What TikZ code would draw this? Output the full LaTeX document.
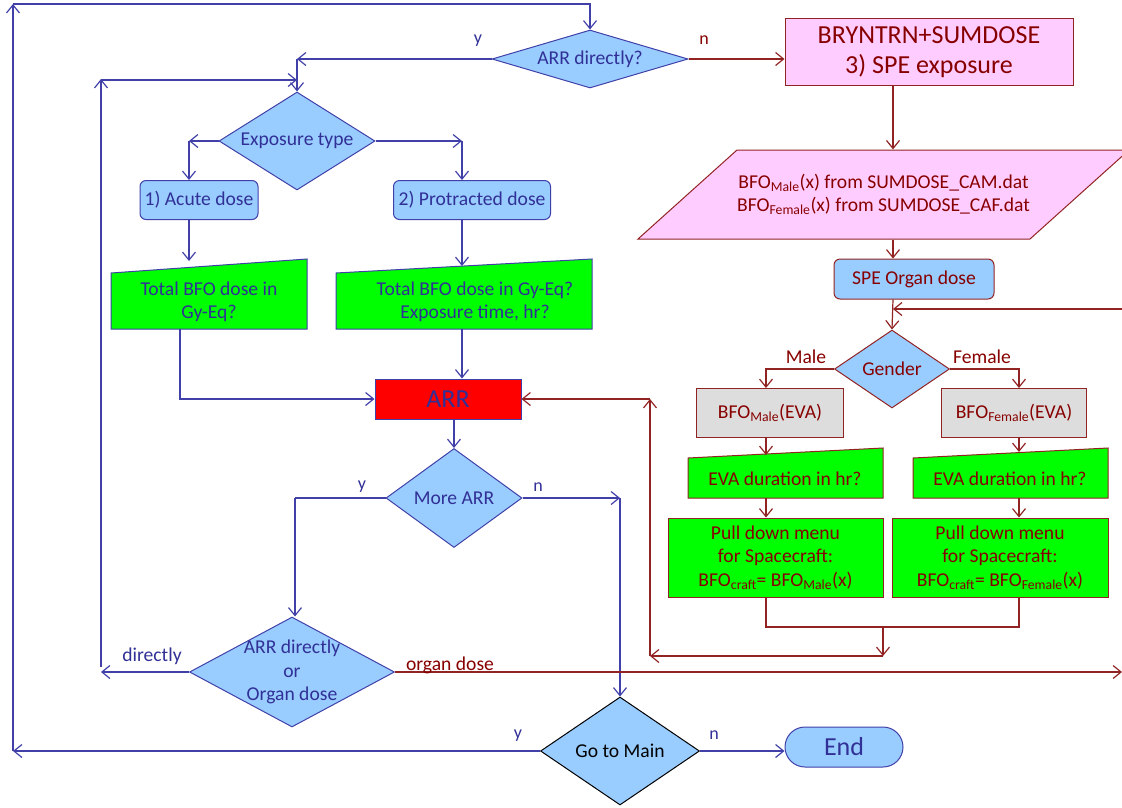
\documentclass[tikz,border=0pt]{standalone}
\usepackage{fontspec}
\setmainfont{Carlito}
\usetikzlibrary{shapes.geometric,arrows.meta}
\definecolor{lnblue}{RGB}{64,64,168}
\definecolor{txblue}{RGB}{48,48,150}
\definecolor{lnred}{RGB}{145,35,35}
\definecolor{txred}{RGB}{135,0,0}
\definecolor{lblue}{RGB}{153,204,255}
\definecolor{pinkf}{RGB}{255,204,255}
\definecolor{greenf}{RGB}{0,255,0}
\definecolor{redf}{RGB}{255,0,0}
\definecolor{grayf}{RGB}{221,221,221}
\newcommand{\fs}{\fontsize{19.6pt}{23.5pt}\selectfont}
\newcommand{\fb}{\fontsize{26pt}{30pt}\selectfont}
\begin{document}
\begin{tikzpicture}[x=1pt,y=-1pt,
  >={Straight Barb[length=8pt,width=13pt]},
  line width=1.2pt,
  bl/.style={draw=lnblue,->},
  rl/.style={draw=lnred,->},
  bplain/.style={draw=lnblue},
  rplain/.style={draw=lnred},
  every node/.style={font=\fs, inner sep=0pt},
  dia/.style={diamond, draw=lnblue, fill=lblue, line width=1pt},
  dlb/.style={font=\fs, text=txblue, align=center, inner sep=0pt},
  dlr/.style={font=\fs, text=txred, align=center, inner sep=0pt},
  bbox/.style={rectangle, draw=lnblue, fill=lblue, rounded corners=6pt, text=txblue, line width=1pt},
  rbox/.style={rectangle, draw=lnred, line width=1pt, text=txred, align=center},
  lab/.style={font=\fs},
  yn/.style={font=\fontsize{18pt}{20pt}\selectfont}
]
\useasboundingbox (0,0) rectangle (1122,807);

% ---------------- left part ----------------
\node[dia, minimum width=196pt, minimum height=58pt, label={[dlb]center:ARR directly?}] (arrdir) at (590,59) {};
\node[dia, minimum width=156pt, minimum height=98pt, label={[dlb]center:Exposure type}] (exp) at (297,141) {};
\node[bbox, minimum width=118pt, minimum height=39pt] (acute) at (199,200) {1) Acute dose};
\node[bbox, minimum width=157pt, minimum height=39pt] (prot) at (472,200) {2) Protracted dose};

\filldraw[fill=greenf, draw=lnblue, line width=1pt] (111,273) -- (307,259) -- (307,329) -- (111,329) -- cycle;
\node[text=txblue, align=center] (tot1) at (209,302) {Total BFO dose in\\Gy-Eq?};
\filldraw[fill=greenf, draw=lnblue, line width=1pt] (336,273) -- (592,259) -- (592,329) -- (336,329) -- cycle;
\node[text=txblue, align=center] (tot2) at (475,302) {Total BFO dose in Gy-Eq?\\Exposure time, hr?};

\node[rectangle, draw=lnblue, fill=redf, line width=1pt, minimum width=146pt, minimum height=40pt, text=txblue, font=\fb] (arr) at (448,399) {ARR};
\node[dia, minimum width=136pt, minimum height=99pt, label={[dlb]center:More ARR}] (more) at (454,498) {};
\node[dia, minimum width=205pt, minimum height=110pt, label={[dlb]center:{ARR directly\\or\\Organ dose}}] (aod) at (292,672) {};
\node[diamond, draw=black, fill=lblue, line width=1pt, minimum width=159pt, minimum height=108pt, label={[dlb,text=black]center:Go to Main}] (goto) at (620,751) {};
\node[rectangle, draw=lnblue, fill=lblue, line width=1pt, rounded corners=20pt, minimum width=118pt, minimum height=40pt, text=txblue, font=\fb] (end) at (844,747) {End};

% ---------------- right part ----------------
\node[rbox, fill=pinkf, minimum width=288pt, minimum height=67pt, font=\fb] (bry) at (929,52) {BRYNTRN+SUMDOSE\\3) SPE exposure};
\filldraw[fill=pinkf, draw=lnred, line width=1pt] (737,150) -- (1129,150) -- (1030,239) -- (638,239) -- cycle;
\node[rectangle, minimum width=491pt, minimum height=89pt, text=txred, align=center] (par) at (883.5,194.5)
  {BFO\textsubscript{Male}(x) from SUMDOSE\_CAM.dat\\BFO\textsubscript{Female}(x) from SUMDOSE\_CAF.dat};
\node[rectangle, draw=lnred, fill=lblue, line width=1pt, rounded corners=6pt, minimum width=160pt, minimum height=40pt, text=txred] (spe) at (914,279) {SPE Organ dose};
\node[diamond, draw=lnred, fill=lblue, line width=1pt, minimum width=115pt, minimum height=78pt, label={[dlr]center:Gender}] (gender) at (892,369) {};
\node[rbox, fill=grayf, minimum width=147pt, minimum height=49pt] (bfoM) at (770,413) {BFO\textsubscript{Male}(EVA)};
\node[rbox, fill=grayf, minimum width=145pt, minimum height=49pt] (bfoF) at (1014,413) {BFO\textsubscript{Female}(EVA)};

\filldraw[fill=greenf, draw=lnred, line width=1pt] (688,458) -- (883,448) -- (883,498) -- (688,498) -- cycle;
\node[text=txred] (eva1) at (785,479) {EVA duration in hr?};
\filldraw[fill=greenf, draw=lnred, line width=1pt] (913,458) -- (1108,448) -- (1108,498) -- (913,498) -- cycle;
\node[text=txred] (eva2) at (1010,479) {EVA duration in hr?};

\node[rbox, fill=greenf, minimum width=215pt, minimum height=79pt] (pullM) at (775.5,557.5)
  {Pull down menu\\ for Spacecraft:\\BFO\textsubscript{craft}= BFO\textsubscript{Male}(x)};
\node[rbox, fill=greenf, minimum width=216pt, minimum height=79pt] (pullF) at (1000,557.5)
  {Pull down menu\\ for Spacecraft:\\BFO\textsubscript{craft}= BFO\textsubscript{Female}(x)};

% ---------------- coordinates ----------------
\coordinate (cL) at (13,751);
\coordinate (cT) at (13,4);
\coordinate (cY) at (297,59);
\coordinate (cD) at (101,672);
\coordinate (cD2) at (101,80);
\coordinate (cE1) at (189,141);
\coordinate (cE2) at (462,141);
\coordinate (t1) at (189,261);
\coordinate (t2) at (462,266);
\coordinate (b1) at (180,329);
\coordinate (b2) at (462,329);
\coordinate (cM1) at (295,498);
\coordinate (cM2) at (620,498);
\coordinate (cR1) at (650,656);
\coordinate (cR2) at (650,399);
\coordinate (cJ) at (883,627);
\coordinate (cO) at (1122,675);
\coordinate (cG) at (1122,309);
\coordinate (colC) at (893,0);
\coordinate (colM) at (766,0);
\coordinate (colF) at (1019,0);
\coordinate (e1) at (766,455);
\coordinate (e2) at (1019,452);
\coordinate (e1b) at (766,498);
\coordinate (e2b) at (1019,498);

% ---------------- blue connectors ----------------
\draw[bl] (goto.west) -- (cL);
\draw[bl] (cL) -- (cT);
\draw[bl] (cT) -| (arrdir.north);
\draw[bl] (arrdir.west) -- (cY);
\draw[bl] (cY) -- (exp.north);
\draw[bl] (aod.west) -- (cD);
\draw[bplain] (cD) ++(0,-5) -- (cD2);
\draw[bl,<-] (cD2 -| cY) -- (cD2);
\draw[bl] (cD2) -- +(0,-1);
\draw[bl] (exp.west) -- (cE1);
\draw[bl] (cE1) -- (cE1 |- acute.north);
\draw[bl] (exp.east) -- (cE2);
\draw[bl] (cE2) -- (cE2 |- prot.north);
\draw[bl] (t1 |- acute.south) -- (t1);
\draw[bl] (t2 |- prot.south) -- (t2);
\draw[bl] (b1) |- (arr.west);
\draw[bl] (b2) -- (b2 |- arr.north);
\draw[bl] (more.north |- arr.south) -- (more.north);
\draw[bplain] (more.west) -- (cM1);
\draw[bl] (cM1) -- (cM1 |- aod.north);
\draw[bl] (more.east) -- (cM2);
\draw[bl] (cM2) -- (goto.north);
\draw[bl] (goto.east) -- (goto.east -| end.west);

% ---------------- red connectors ----------------
\draw[rl] (arrdir.east) -- (arrdir.east -| bry.west);
\draw[rl] (colC |- bry.south) -- (colC |- par.north);
\draw[rl] (colC |- par.south) -- (colC |- spe.north);
\draw[rl] (colC |- spe.south) -- (gender.north);
\draw[rl] (cG) -- (cG -| colC);
\draw[rl] (gender.west) -| (colM |- bfoM.north);
\draw[rl] (gender.east) -| (colF |- bfoF.north);
\draw[rl] (colM |- bfoM.south) -- (e1);
\draw[rl] (colF |- bfoF.south) -- (e2);
\draw[rl] (e1b) -- (colM |- pullM.north);
\draw[rl] (e2b) -- (colF |- pullF.north);
\draw[rplain] (colM |- pullM.south) |- (cJ) -| (colF |- pullF.south);
\draw[rl] (cJ) -- (cJ |- cR1);
\draw[rl] (cJ |- cR1) -- (cR1);
\draw[rl] (cR1) -- (cR2);
\draw[rl] (cR2) -- (arr.east);
\draw[rl] (aod.east) -- (aod.east -| cO);

% ---------------- labels ----------------
\node[yn, text=txblue] (ly1) at (478,41) {y};
\node[yn, text=txred] (ln1) at (704,40) {n};
\node[lab, text=txred] (lmale) at (806,357) {Male};
\node[lab, text=txred] (lfem) at (982,357) {Female};
\node[yn, text=txblue] (ly2) at (362,487) {y};
\node[yn, text=txblue] (ln2) at (538,487) {n};
\node[lab, text=txblue] (ldir) at (152,656) {directly};
\node[lab, text=txred] (lorg) at (450,665) {organ dose};
\node[yn, text=txblue] (ly3) at (518,736) {y};
\node[yn, text=txblue] (ln3) at (714,735) {n};
\end{tikzpicture}
\end{document}
